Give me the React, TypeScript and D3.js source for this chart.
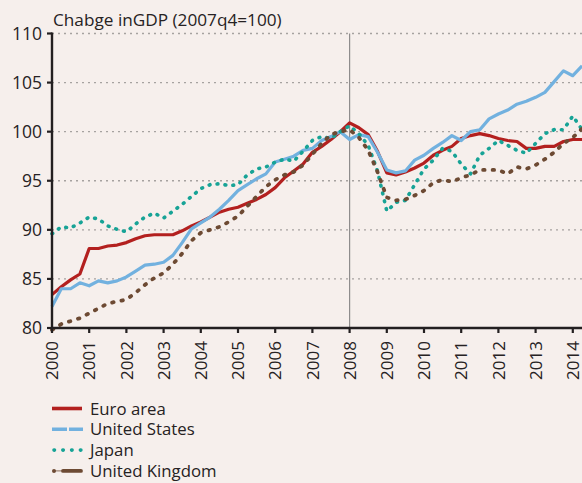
import React from "react";
import * as d3 from "d3";

const years = d3.range(2000, 2015);
const yTicks = [80, 85, 90, 95, 100, 105, 110];
const title = "Chabge inGDP (2007q4=100)";

const euroArea = [
  83.4, 84.2, 84.9, 85.5,
  88.1, 88.1, 88.35, 88.45,
  88.7, 89.1, 89.4, 89.5,
  89.5, 89.5, 89.9, 90.4,
  90.8, 91.3, 91.8, 92.1,
  92.3, 92.7, 93.1, 93.6,
  94.3, 95.3, 96.0, 96.7,
  97.9, 98.5, 99.2, 100.0,
  100.9, 100.4, 99.7, 98.0,
  95.8, 95.6, 95.9, 96.3,
  96.8, 97.6, 98.1, 98.5,
  99.3, 99.6, 99.8, 99.6,
  99.3, 99.1, 99.0, 98.3,
  98.3, 98.5, 98.5, 99.0,
  99.2, 99.2,
];
const unitedStates = [
  82.2, 84.0, 84.0, 84.6,
  84.3, 84.8, 84.6, 84.8,
  85.2, 85.8, 86.4, 86.5,
  86.7, 87.4, 88.7, 90.1,
  90.7, 91.3, 92.1, 93.0,
  94.0, 94.6, 95.2, 95.7,
  96.9, 97.2, 97.5, 98.1,
  98.3, 99.1, 99.5, 100.0,
  99.2, 99.7, 99.5, 97.9,
  96.1, 95.8, 96.0, 97.1,
  97.6, 98.3, 98.9, 99.6,
  99.1, 100.0, 100.2, 101.3,
  101.8, 102.2, 102.8, 103.1,
  103.5, 104.0, 105.1, 106.2,
  105.7, 106.7,
];
const japan = [
  89.6, 90.3, 90.2, 90.7,
  91.3, 91.1, 90.4, 90.05,
  89.8, 90.6, 91.3, 91.7,
  91.2, 91.9, 92.6, 93.4,
  94.2, 94.6, 94.7, 94.5,
  94.6, 95.6, 96.2, 96.4,
  96.9, 97.2, 97.0, 98.0,
  99.1, 99.5, 99.3, 100.0,
  100.6, 99.8, 98.6, 96.0,
  91.9, 92.8, 93.0, 94.6,
  96.2, 97.1, 98.3, 98.0,
  96.7, 95.7, 97.6, 98.3,
  99.1, 98.6, 98.1, 97.8,
  98.8, 99.8, 100.2, 100.2,
  101.6, 100.2,
];
const unitedKingdom = [
  79.8, 80.4, 80.7, 81.0,
  81.5, 82.0, 82.5, 82.7,
  82.9, 83.6, 84.4, 85.1,
  85.6, 86.5, 87.6, 88.9,
  89.7, 90.0, 90.3, 90.8,
  91.4, 92.4, 93.4, 94.4,
  95.1, 95.6, 95.9, 96.6,
  97.7, 98.8, 99.7, 100.0,
  100.2, 99.4, 98.1, 95.9,
  93.3, 93.0, 93.1, 93.5,
  94.0, 94.8, 95.1, 94.9,
  95.3, 95.6, 96.1, 96.1,
  96.1, 95.7, 96.4, 96.2,
  96.6, 97.2, 97.9, 98.8,
  99.4, 100.3,
];

const seriesNames = ["Euro area", "United States", "Japan", "United Kingdom"];

const W = 582;
const H = 483;
const FONT = "'Open Sans', sans-serif";
const TEXT = "#262223";

const styles = [
  { color: "#b3201f", width: 3.2, dash: undefined as string | undefined, cap: "butt" },
  { color: "#72b1df", width: 3.2, dash: undefined as string | undefined, cap: "butt" },
  { color: "#17a396", width: 3.6, dash: "0.8,7.2", cap: "round" },
  { color: "#6d4a33", width: 3.8, dash: "1.5,8", cap: "round" },
];

export default function App() {
  const x = d3.scaleLinear().domain([2000, 2014]).range([52, 572.8]);
  const y = d3.scaleLinear().domain([80, 110]).range([328, 33.5]);
  const all = [euroArea, unitedStates, japan, unitedKingdom];
  const line = d3
    .line<number>()
    .x((_, i) => x(2000 + i / 4))
    .y((d) => y(d));

  return (
    <div style={{ position: "absolute", left: 0, top: 0, width: W, height: H, background: "#f6efec" }}>
      <svg width={W} height={H} style={{ display: "block" }}>
        <rect x={0} y={0} width={W} height={H} fill="#f6efec" />
        <text x={53} y={26} fontFamily={FONT} fontSize={17.2} fill={TEXT}>
          {title}
        </text>
        {yTicks.slice(1).map((t) => (
          <line
            key={"g" + t}
            x1={x(2000)}
            x2={W}
            y1={y(t)}
            y2={y(t)}
            stroke="#a6a2a0"
            strokeWidth={1.3}
            strokeDasharray="2,4"
          />
        ))}
        <line x1={x(2008)} x2={x(2008)} y1={y(110)} y2={y(80)} stroke="#8e8c8c" strokeWidth={1.2} />
        {all.map((s, k) => (
          <path
            key={"s" + k}
            d={line(s) || ""}
            fill="none"
            stroke={styles[k].color}
            strokeWidth={styles[k].width}
            strokeDasharray={styles[k].dash}
            strokeLinecap={styles[k].cap as any}
            strokeLinejoin="round"
          />
        ))}
        {/* axes */}
        <line x1={x(2000)} x2={x(2000)} y1={y(110) - 1} y2={y(80) + 1} stroke="#231f20" strokeWidth={2.4} />
        <line x1={x(2000) - 1} x2={W} y1={y(80)} y2={y(80)} stroke="#231f20" strokeWidth={2.4} />
        {yTicks.map((t) => (
          <g key={"yt" + t}>
            <line x1={x(2000) - 5} x2={x(2000)} y1={y(t)} y2={y(t)} stroke="#231f20" strokeWidth={2.2} />
            <text
              x={x(2000) - 10}
              y={y(t)}
              dy="0.36em"
              textAnchor="end"
              fontFamily={FONT}
              fontSize={17.5}
              fill={TEXT}
            >
              {t}
            </text>
          </g>
        ))}
        {years.map((yr) => (
          <g key={"xt" + yr}>
            <line x1={x(yr)} x2={x(yr)} y1={y(80)} y2={y(80) + 5} stroke="#231f20" strokeWidth={2.2} />
            <text
              transform={`translate(${x(yr)},${y(80) + 13}) rotate(-90)`}
              dy="0.36em"
              textAnchor="end"
              fontFamily={FONT}
              fontSize={17}
              fill={TEXT}
            >
              {yr}
            </text>
          </g>
        ))}
        {/* legend */}
        {seriesNames.map((n, k) => {
          const ly = 408.5 + k * 20.8;
          return (
            <g key={"l" + n}>
              {k === 0 && <line x1={52} x2={82} y1={ly} y2={ly} stroke={styles[0].color} strokeWidth={3.6} />}
              {k === 1 && (
                <line x1={52} x2={83} y1={ly} y2={ly} stroke={styles[1].color} strokeWidth={3.6} strokeDasharray="15,2" />
              )}
              {k === 2 && (
                <line
                  x1={54}
                  x2={82}
                  y1={ly}
                  y2={ly}
                  stroke={styles[2].color}
                  strokeWidth={3.6}
                  strokeDasharray="0.5,8.3"
                  strokeLinecap="round"
                />
              )}
              {k === 3 && (
                <g>
                  <line x1={53} x2={82} y1={ly} y2={ly} stroke={styles[3].color} strokeWidth={0.8} />
                  <circle cx={54} cy={ly} r={2} fill={styles[3].color} />
                  <line x1={63} x2={81} y1={ly} y2={ly} stroke={styles[3].color} strokeWidth={3.8} strokeLinecap="round" />
                </g>
              )}
              <text x={90} y={ly} dy="0.36em" fontFamily={FONT} fontSize={16.8} fill={TEXT}>
                {n}
              </text>
            </g>
          );
        })}
      </svg>
    </div>
  );
}
